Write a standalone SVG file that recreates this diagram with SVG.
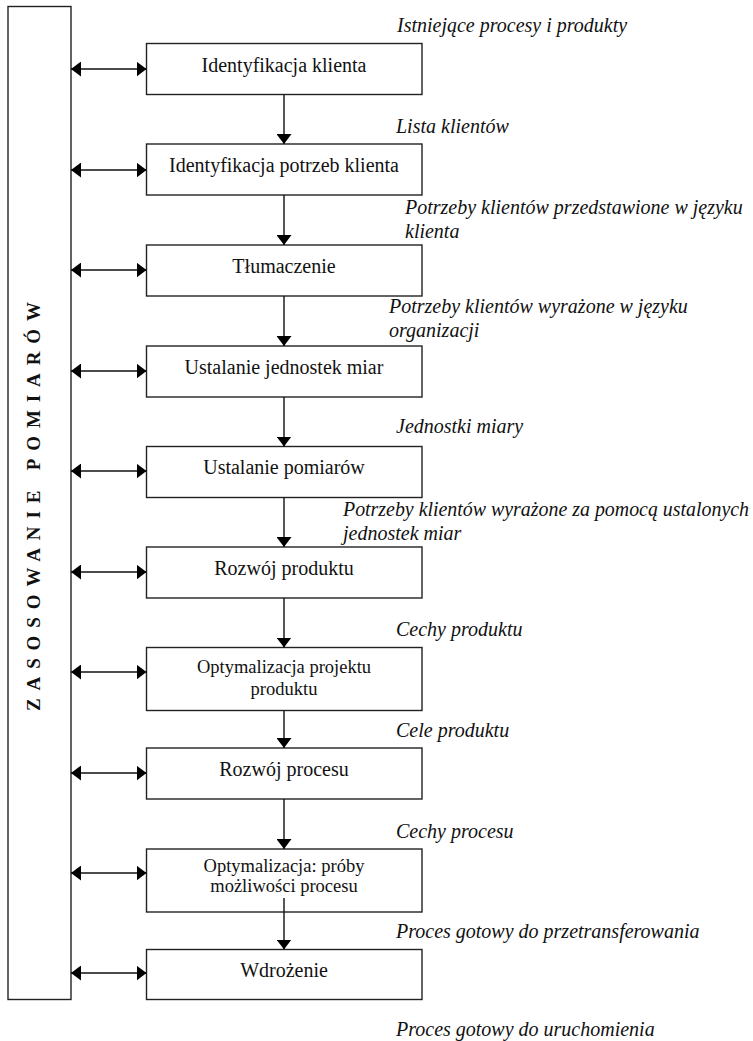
<svg xmlns="http://www.w3.org/2000/svg" width="753" height="1041" viewBox="0 0 753 1041">
  <style>
    .box { fill: #fff; stroke: #222; stroke-width: 1.4; }
    .node { font-family: "Liberation Serif", "Times New Roman", serif; font-size: 20px; fill: #111; text-anchor: middle; }
    .small { font-size: 18.5px; }
    .lbl { font-family: "Liberation Serif", "Times New Roman", serif; font-style: italic; font-size: 20px; fill: #111; }
    .title { font-family: "Liberation Serif", "Times New Roman", serif; font-weight: bold; font-size: 19px; fill: #111; }
    .con line { stroke: #111; stroke-width: 1.4; }
  </style>
  <defs>
    <marker id="head" viewBox="0 0 10 15" refX="10" refY="7.5" markerWidth="10" markerHeight="15" markerUnits="userSpaceOnUse" orient="auto-start-reverse">
      <path d="M0,0 L10,7.5 L0,15 Z" fill="#000"/>
    </marker>
  </defs>

  <rect width="753" height="1041" fill="#fff"/>

  <!-- measurement band on the left -->
  <g id="pomiary">
    <rect class="box" x="8" y="6.5" width="63" height="993"/>
    <text class="title" transform="translate(40,711) rotate(-90)" textLength="409" lengthAdjust="spacing">ZASOSOWANIE POMIARÓW</text>
  </g>

  <!-- process steps -->
  <g id="n1"><rect class="box" x="146.5" y="43.5" width="275.5" height="51"/><text class="node" x="284" y="71.5">Identyfikacja klienta</text></g>
  <g id="n2"><rect class="box" x="146.5" y="144" width="275.5" height="51"/><text class="node" x="284" y="172">Identyfikacja potrzeb klienta</text></g>
  <g id="n3"><rect class="box" x="146.5" y="245" width="275.5" height="51"/><text class="node" x="284" y="273">Tłumaczenie</text></g>
  <g id="n4"><rect class="box" x="146.5" y="346" width="275.5" height="51"/><text class="node" x="284" y="374">Ustalanie jednostek miar</text></g>
  <g id="n5"><rect class="box" x="146.5" y="446.5" width="275.5" height="51"/><text class="node" x="284" y="474">Ustalanie pomiarów</text></g>
  <g id="n6"><rect class="box" x="146.5" y="547" width="275.5" height="51"/><text class="node" x="284" y="575">Rozwój produktu</text></g>
  <g id="n7"><rect class="box" x="146.5" y="647.5" width="275.5" height="63"/><text class="node small" x="284" y="673">Optymalizacja projektu</text><text class="node small" x="284" y="695">produktu</text></g>
  <g id="n8"><rect class="box" x="146.5" y="748" width="275.5" height="51"/><text class="node" x="284" y="776">Rozwój procesu</text></g>
  <g id="n9"><rect class="box" x="146.5" y="849" width="275.5" height="63"/><text class="node small" x="284" y="872" font-size="17.5">Optymalizacja: próby</text><text class="node small" x="284" y="892" font-size="17.5">możliwości procesu</text></g>
  <g id="n10"><rect class="box" x="146.5" y="949.5" width="275.5" height="50"/><text class="node" x="284" y="977">Wdrożenie</text></g>

  <!-- connectors -->
  <g id="connectors" class="con">
    <line x1="284" y1="94.5" x2="284" y2="144" marker-end="url(#head)"/>
    <line x1="284" y1="195" x2="284" y2="245" marker-end="url(#head)"/>
    <line x1="284" y1="296" x2="284" y2="346" marker-end="url(#head)"/>
    <line x1="284" y1="397" x2="284" y2="446.5" marker-end="url(#head)"/>
    <line x1="284" y1="497.5" x2="284" y2="547" marker-end="url(#head)"/>
    <line x1="284" y1="598" x2="284" y2="647.5" marker-end="url(#head)"/>
    <line x1="284" y1="710.5" x2="284" y2="748" marker-end="url(#head)"/>
    <line x1="284" y1="799" x2="284" y2="849" marker-end="url(#head)"/>
    <line x1="284" y1="898" x2="284" y2="949.5" marker-end="url(#head)"/>

    <line x1="71" y1="69" x2="146.5" y2="69" marker-start="url(#head)" marker-end="url(#head)"/>
    <line x1="71" y1="170" x2="146.5" y2="170" marker-start="url(#head)" marker-end="url(#head)"/>
    <line x1="71" y1="270" x2="146.5" y2="270" marker-start="url(#head)" marker-end="url(#head)"/>
    <line x1="71" y1="371" x2="146.5" y2="371" marker-start="url(#head)" marker-end="url(#head)"/>
    <line x1="71" y1="471" x2="146.5" y2="471" marker-start="url(#head)" marker-end="url(#head)"/>
    <line x1="71" y1="572" x2="146.5" y2="572" marker-start="url(#head)" marker-end="url(#head)"/>
    <line x1="71" y1="672" x2="146.5" y2="672" marker-start="url(#head)" marker-end="url(#head)"/>
    <line x1="71" y1="773" x2="146.5" y2="773" marker-start="url(#head)" marker-end="url(#head)"/>
    <line x1="71" y1="873" x2="146.5" y2="873" marker-start="url(#head)" marker-end="url(#head)"/>
    <line x1="71" y1="973" x2="146.5" y2="973" marker-start="url(#head)" marker-end="url(#head)"/>
  </g>

  <!-- intermediate results between steps -->
  <g id="labels">
    <text class="lbl" x="397" y="32">Istniejące procesy i produkty</text>
    <text class="lbl" x="396" y="133">Lista klientów</text>
    <text class="lbl" x="405" y="214">Potrzeby klientów przedstawione w języku</text>
    <text class="lbl" x="405" y="238">klienta</text>
    <text class="lbl" x="389" y="313">Potrzeby klientów wyrażone w języku</text>
    <text class="lbl" x="389" y="337">organizacji</text>
    <text class="lbl" x="396" y="433">Jednostki miary</text>
    <text class="lbl" x="343" y="516" textLength="406" lengthAdjust="spacingAndGlyphs">Potrzeby klientów wyrażone za pomocą ustalonych</text>
    <text class="lbl" x="343" y="540">jednostek miar</text>
    <text class="lbl" x="396" y="636">Cechy produktu</text>
    <text class="lbl" x="396" y="737">Cele produktu</text>
    <text class="lbl" x="396" y="838">Cechy procesu</text>
    <text class="lbl" x="396" y="938">Proces gotowy do przetransferowania</text>
    <text class="lbl" x="396" y="1036">Proces gotowy do uruchomienia</text>
  </g>
</svg>
